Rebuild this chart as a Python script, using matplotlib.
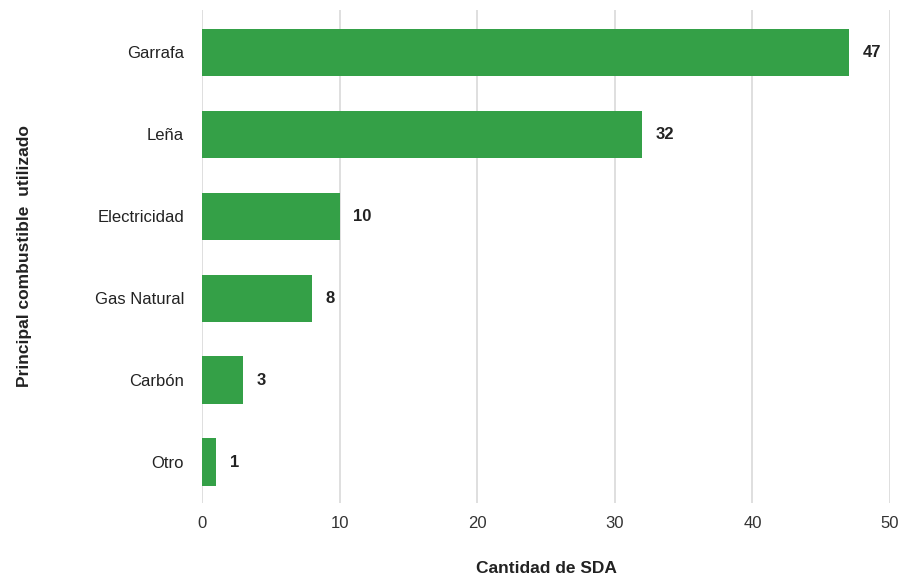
import matplotlib.pyplot as plt

categories = ["Garrafa", "Leña", "Electricidad", "Gas Natural", "Carbón", "Otro"]
values = [47, 32, 10, 8, 3, 1]

plt.rcParams['font.family'] = ['Liberation Sans', 'DejaVu Sans']

fig = plt.figure(figsize=(9.03, 5.77), dpi=100)
ax = fig.add_axes([0.2237, 0.128, 0.7619, 0.855])

pos = list(range(len(categories)))
bars = ax.barh(pos, values, height=0.58, color='#34a047', zorder=3)
for p, v in zip(pos, values):
    ax.text(v + 1.0, p, str(v), va='center', ha='left',
            fontsize=12, fontweight='bold', color='#222222')

ax.set_yticks(pos)
ax.set_yticklabels(categories, fontsize=12, color='#222222')
ax.set_ylim(5.5, -0.52)
ax.set_xlim(0, 50)
ax.set_xticks([0, 10, 20, 30, 40, 50])
ax.tick_params(axis='x', labelsize=12, colors='#333333', length=0, pad=9)
ax.tick_params(axis='y', length=0, pad=13)
ax.grid(axis='x', color='#d9d9d9', linewidth=1.2, zorder=0)
for s in ax.spines.values():
    s.set_visible(False)

ax.set_xlabel('Cantidad de SDA', fontsize=12.5, fontweight='bold',
              color='#222222', labelpad=22)
ax.set_ylabel('Principal combustible  utilizado', fontsize=12.5,
              fontweight='bold', color='#222222')
ax.yaxis.set_label_coords(-0.247, 0.5)

fig.savefig('out.png', dpi=100)
